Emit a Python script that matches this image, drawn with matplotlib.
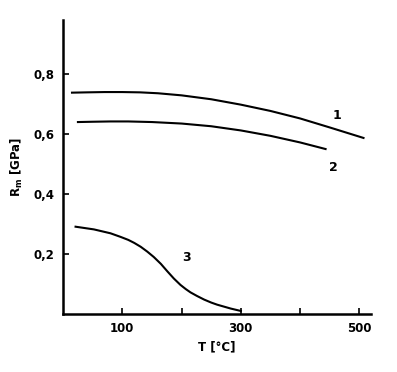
import numpy as np
import matplotlib
matplotlib.use('Agg')
import matplotlib.pyplot as plt

# curva 1
t1 = [15, 40, 70, 100, 130, 160, 200, 250, 300, 350, 400, 450, 507]
r1 = [0.738, 0.739, 0.740, 0.740, 0.739, 0.736, 0.729, 0.716, 0.698, 0.677, 0.652, 0.622, 0.587]
# curva 2
t2 = [25, 50, 80, 110, 150, 200, 250, 300, 350, 400, 443]
r2 = [0.640, 0.641, 0.642, 0.642, 0.640, 0.635, 0.626, 0.612, 0.594, 0.572, 0.550]
# curva 3
t3 = [21, 52, 80, 97, 110, 120, 131, 142, 153, 165, 176, 187, 198, 207, 215, 226, 238, 250, 260, 283, 300]
r3 = [0.291, 0.282, 0.269, 0.257, 0.247, 0.237, 0.224, 0.208, 0.190, 0.167, 0.142, 0.118, 0.097, 0.083, 0.072, 0.060, 0.048, 0.038, 0.031, 0.018, 0.010]

etiquetas = [('1', 463, 0.663), ('2', 456, 0.487), ('3', 208, 0.187)]

fig = plt.figure(figsize=(3.97, 3.72), dpi=100)
ax = fig.add_axes([0.159, 0.156, 0.776, 0.79])

for t, r in [(t1, r1), (t2, r2), (t3, r3)]:
    ax.plot(t, r, color='k', lw=1.5, solid_joinstyle='round')

for txt, x, y in etiquetas:
    ax.text(x, y, txt, fontsize=9, fontweight='bold', ha='center', va='center')

ax.set_xlim(0, 520)
ax.set_ylim(0, 0.98)
ax.spines['top'].set_visible(False)
ax.spines['right'].set_visible(False)
ax.spines['left'].set_linewidth(1.8)
ax.spines['bottom'].set_linewidth(1.8)

ax.set_xticks([100, 200, 300, 400, 500])
ax.set_xticklabels(['100', '', '300', '', '500'], fontweight='bold', fontsize=8.5)
ax.set_yticks([0.2, 0.4, 0.6, 0.8])
ax.set_yticklabels(['0,2', '0,4', '0,6', '0,8'], fontweight='bold', fontsize=8.5)
ax.tick_params(direction='in', length=4, width=1.2, pad=6)

ax.set_xlabel('T [°C]', fontweight='bold', fontsize=8.5, labelpad=4)
ax.set_ylabel('R$_\\mathbf{m}$ [GPa]', fontweight='bold', fontsize=8.5, labelpad=6)

fig.savefig('out.png', dpi=100)
